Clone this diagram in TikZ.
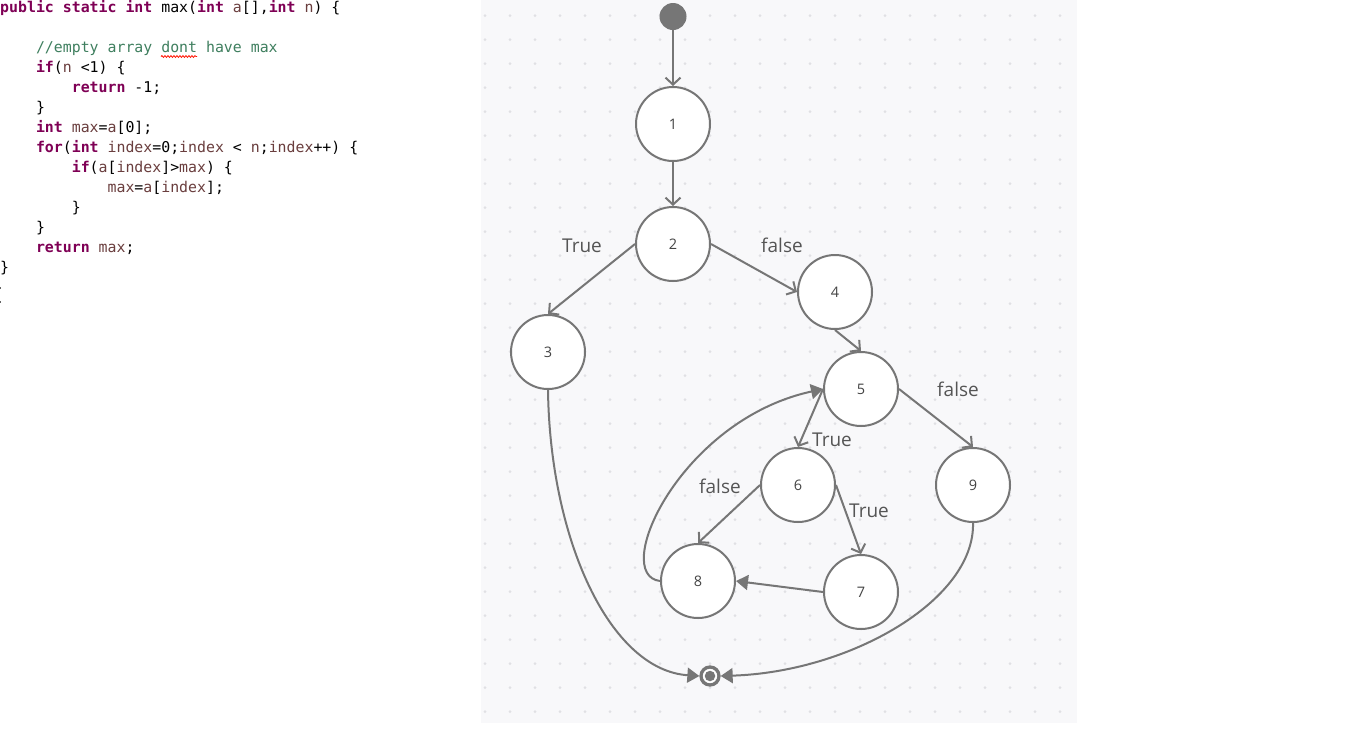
\documentclass[tikz,border=0pt]{standalone}
\usepackage{fontspec}
\setmainfont{Open Sans}
\setmonofont{DejaVu Sans Mono}
\usetikzlibrary{arrows.meta,decorations.pathmorphing}

\definecolor{panelbg}{HTML}{F8F8FA}
\definecolor{griddot}{HTML}{E0E0E4}
\definecolor{edgegray}{HTML}{767676}
\definecolor{labelgray}{HTML}{555555}
\definecolor{numgray}{HTML}{444444}
\definecolor{kwcol}{HTML}{7F0055}
\definecolor{varcol}{HTML}{6A3E3E}
\definecolor{comcol}{HTML}{3F7F5F}

% token colouring for the Java listing
\newcommand\cKw[1]{\textcolor{kwcol}{\bfseries #1}}
\newcommand\cVar[1]{\textcolor{varcol}{#1}}
\newcommand\cCom[1]{\textcolor{comcol}{#1}}

\begin{document}
\begin{tikzpicture}[x=1pt,y=-1pt,
  state/.style={circle, draw=edgegray, line width=2pt, fill=white,
    minimum size=74pt, inner sep=0pt, text=numgray,
    font=\fontsize{14.5}{16}\selectfont},
  flow/.style={draw=edgegray, line width=2pt,
    -{Straight Barb[length=7pt,width=15pt]}},
  back/.style={draw=edgegray, line width=2pt,
    -{Triangle[length=12pt,width=15pt]}},
  elabel/.style={anchor=base, inner sep=0pt, text=labelgray,
    font=\fontsize{19}{22}\selectfont},
  codeline/.style={anchor=base west, inner sep=0pt,
    font=\ttfamily\fontsize{14.87}{20}\selectfont}]

% canvas and bounding box
\fill[white] (0,0) rectangle (1354,737);
\useasboundingbox (0,0) rectangle (1354,737);

% ---------------- source listing ----------------
\node[codeline] (c1)  at (0,12.5)     {\cKw{public static int} max(\cKw{int} \cVar{a}[],\cKw{int} \cVar{n}) \{};
\node[codeline] (c3)  at (35.8,52.5)  {\cCom{//empty array dont have max}};
\node[codeline] (c4)  at (35.8,72.5)  {\cKw{if}(\cVar{n} <1) \{};
\node[codeline] (c5)  at (71.6,92.5)  {\cKw{return} -1;};
\node[codeline] (c6)  at (35.8,112.5) {\}};
\node[codeline] (c7)  at (35.8,132.5) {\cKw{int} \cVar{max}=\cVar{a}[0];};
\node[codeline] (c8)  at (35.8,152.5) {\cKw{for}(\cKw{int} \cVar{index}=0;\cVar{index} < \cVar{n};\cVar{index}++) \{};
\node[codeline] (c9)  at (71.6,172.5) {\cKw{if}(\cVar{a}[\cVar{index}]>\cVar{max}) \{};
\node[codeline] (c10) at (107.4,192.5){\cVar{max}=\cVar{a}[\cVar{index}];};
\node[codeline] (c11) at (71.6,212.5) {\}};
\node[codeline] (c12) at (35.8,232.5) {\}};
\node[codeline] (c13) at (35.8,252.5) {\cKw{return} \cVar{max};};
\node[codeline] (c14) at (0,272.5)    {\}};
% spell-check squiggle and stray caret marks
\draw[red!85!orange, line width=0.8pt, decorate,
  decoration={snake, amplitude=0.9pt, segment length=3pt}] (161,56.5) -- (197,56.5);
\fill[black!60] (0,287) rectangle (1,289);
\fill[black!60] (0,301) rectangle (1,303);

% ---------------- graph panel ----------------
\fill[panelbg] (481,0) rectangle (1077,723);
\foreach \i in {0,...,23}
  \foreach \j in {0,...,29}
    \fill[griddot] ({485+25*\i},{15.7+24*\j}) circle (1.5pt);

% nodes
\node[circle, fill=edgegray, minimum size=27pt, inner sep=0pt] (start) at (673,16.5) {};
\node[state] (n1) at (673,124) {1};
\node[state] (n2) at (673,244) {2};
\node[state] (n3) at (548,352) {3};
\node[state] (n4) at (835,292) {4};
\node[state] (n5) at (861,389) {5};
\node[state] (n6) at (798,485) {6};
\node[state] (n7) at (861,592) {7};
\node[state] (n8) at (698,581) {8};
\node[state] (n9) at (973,485) {9};
\node[circle, draw=edgegray, line width=3.3pt, fill=white, minimum size=18pt,
  inner sep=0pt] (stop) at (710,676) {};
\node[circle, fill=edgegray, minimum size=10.5pt, inner sep=0pt] (stopcore) at (stop) {};

% straight connectors
\draw[flow] (start) -- (n1);
\draw[flow] (n1) -- (n2);
\draw[flow] (n2.west) -- (n3.north);
\draw[flow] (n2.east) -- (n4.west);
\draw[flow] (n4.south) -- (n5.north);
\draw[flow] (n5.west) -- (n6.north);
\draw[flow] (n5.east) -- (n9.north);
\draw[flow] (n6.east) -- (n7.north);
\draw[flow] (n6.west) -- (n8.north);
\draw[back] (n7.west) -- (n8.east);

% curved connectors
\draw[back] (n8.west) .. controls (610,575) and (680,420) .. (n5.west);
\draw[back] (n3.south) .. controls (550,540) and (610,670) .. (stop.west);
\draw[back] (n9.south) .. controls (975,600) and (850,672) .. (stop.east);

% branch labels
\node[elabel] (l23) at (582,252) {True};
\node[elabel] (l24) at (782,252) {false};
\node[elabel] (l59) at (958,396) {false};
\node[elabel] (l56) at (832,446) {True};
\node[elabel] (l68) at (720,493) {false};
\node[elabel] (l67) at (869,517) {True};
\end{tikzpicture}
\end{document}
